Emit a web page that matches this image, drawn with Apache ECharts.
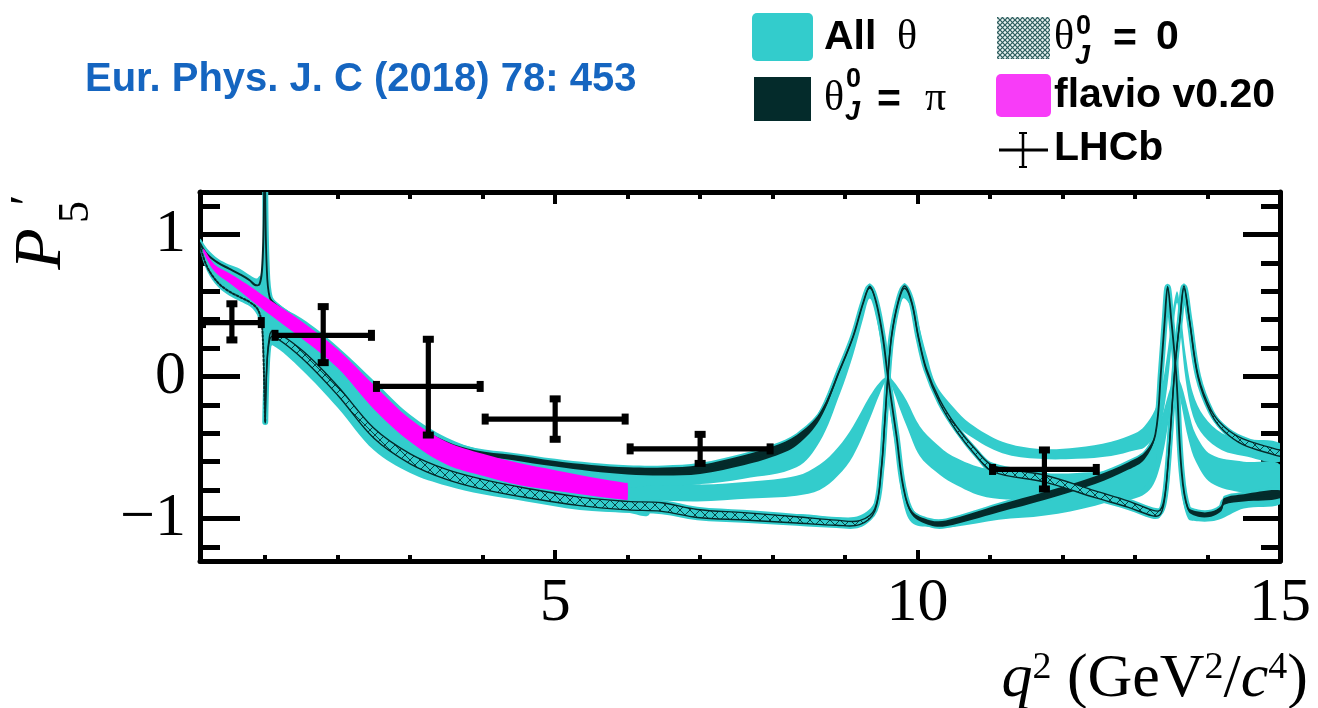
<!DOCTYPE html>
<html>
<head>
<meta charset="utf-8">
<script src="https://cdn.jsdelivr.net/npm/echarts@6.0.0/dist/echarts.min.js"></script>
<style>
  html, body { margin: 0; padding: 0; background: #ffffff; }
  #chart { width: 1318px; height: 708px; }
</style>
</head>
<body>
<div id="chart"></div>
<script>
// ---------------- axis ticks ----------------
const xLabelValues = [5, 10, 15];
const xMajorTicks = [5, 10];
const xMinorTicks = [1, 2, 3, 4, 6, 7, 8, 9, 11, 12, 13, 14];
const yLabelValues = [-1, 0, 1];
const yMajorTicks = [-1, 0, 1];
const yMinorTicks = [-1.2, -0.8, -0.6, -0.4, -0.2, 0.2, 0.4, 0.6, 0.8, 1.2];

// ---------------- LHCb measurements ----------------
const lhcbX     = [0.54, 1.80, 3.25, 5.00, 7.00, 11.75];
const lhcbY     = [0.38, 0.29, -0.07, -0.30, -0.51, -0.655];
const lhcbXLo   = [0.10, 1.10, 2.50, 4.00, 6.00, 11.00];
const lhcbXHi   = [0.98, 2.50, 4.00, 6.00, 8.00, 12.50];
const lhcbErrUp = [0.15, 0.22, 0.35, 0.16, 0.12, 0.155];
const lhcbErrDn = [0.14, 0.21, 0.36, 0.16, 0.12, 0.155];

// ---------------- flavio v0.20 prediction (q2 < 6) ----------------
const flavioX  = [0.15, 0.30, 0.50, 0.75, 1.00, 1.50, 2.00, 2.50, 3.00, 3.50, 4.00, 4.50, 5.00, 5.50, 5.98, 6.00];
const flavioHi = [0.90, 0.79, 0.73, 0.65, 0.56, 0.39, 0.19, -0.06, -0.30, -0.46, -0.545, -0.61, -0.66, -0.71, -0.75, -0.75];
const flavioLo = [0.87, 0.74, 0.66, 0.56, 0.46, 0.27, 0.06, -0.23, -0.46, -0.62, -0.70, -0.765, -0.805, -0.84, -0.87, -0.87];

// ---------------- all-theta envelope below the phi spike ----------------
const lowX  = [0.10, 0.20, 0.35, 0.50, 0.65, 0.80, 0.88, 0.93];
const lowHi = [0.97, 0.90, 0.83, 0.79, 0.76, 0.71, 0.69, 0.71];
const lowLo = [0.89, 0.74, 0.63, 0.57, 0.53, 0.49, 0.44, 0.38];

// phi resonance spike
const spikeX  = [0.93, 0.96, 0.975, 0.985, 0.995, 1.005, 1.02, 1.04, 1.08];
const spikeHi = [0.70, 0.78, 0.95, 1.30, 1.30, 0.95, 0.62, 0.52, 0.46];
const spikeLo = [0.48, 0.36, 0.05, -0.22, -0.33, -0.20, 0.08, 0.22, 0.28];

// all-theta envelope, 1 < q2 < 6.3
const mainX  = [1.04, 1.10, 1.50, 2.00, 2.50, 3.00, 3.50, 4.00, 4.60, 5.34, 6.00, 6.30];
const mainHi = [0.52, 0.51, 0.41, 0.21, -0.03, -0.27, -0.43, -0.52, -0.57, -0.62, -0.645, -0.65];
const mainLo = [0.18, 0.22, 0.05, -0.22, -0.52, -0.68, -0.77, -0.83, -0.88, -0.94, -0.96, -0.97];

// theta_J = pi/2 family
const midX  = [5.80, 6.30, 6.96, 7.70, 8.33, 8.65, 8.90, 9.11, 9.34, 9.48, 9.59, 9.68, 9.75, 9.85, 10.03, 10.25, 10.48, 10.95, 11.68, 12.20, 12.90, 13.20, 13.36, 13.50, 13.57, 13.64, 13.74, 13.84, 14.05, 14.50, 15.00];
const midHi = [-0.70, -0.73, -0.76, -0.74, -0.70, -0.62, -0.50, -0.35, -0.14, -0.04, 0.00, -0.04, -0.09, -0.17, -0.35, -0.47, -0.56, -0.65, -0.68, -0.68, -0.64, -0.52, -0.30, -0.06, 0.00, -0.06, -0.25, -0.41, -0.55, -0.60, -0.62];
const midLo = [-0.86, -0.87, -0.88, -0.86, -0.84, -0.80, -0.70, -0.56, -0.30, -0.12, -0.02, -0.12, -0.22, -0.35, -0.56, -0.67, -0.75, -0.85, -0.87, -0.88, -0.87, -0.80, -0.60, -0.20, -0.03, -0.20, -0.45, -0.60, -0.75, -0.82, -0.85];

// theta_J near 3pi/4 family
const q3X  = [5.80, 6.30, 6.96, 7.60, 8.33, 8.65, 8.93, 9.11, 9.25, 9.34, 9.43, 9.52, 9.59, 9.71, 9.80, 9.92, 10.17, 10.50, 11.12, 11.76, 12.45, 12.91, 13.13, 13.28, 13.36, 13.41, 13.45, 13.50, 13.57, 13.64, 13.73, 13.87, 14.05, 14.20, 14.50, 15.00];
const q3Hi = [-0.66, -0.68, -0.68, -0.62, -0.49, -0.31, 0.02, 0.25, 0.49, 0.60, 0.49, 0.25, -0.02, -0.43, -0.78, -0.97, -1.02, -1.01, -0.93, -0.83, -0.71, -0.61, -0.54, -0.40, 0.03, 0.37, 0.60, 0.37, -0.02, -0.66, -0.94, -0.98, -0.97, -0.90, -0.82, -0.80];
const q3Lo = [-0.78, -0.77, -0.76, -0.72, -0.64, -0.46, -0.12, 0.15, 0.41, 0.55, 0.41, 0.15, -0.14, -0.55, -0.88, -1.03, -1.06, -1.06, -1.01, -0.98, -0.91, -0.83, -0.78, -0.62, -0.15, 0.25, 0.54, 0.25, -0.16, -0.78, -1.00, -1.02, -1.02, -1.00, -0.93, -0.90];

// theta_J near pi/4 family
const q1X  = [8.33, 8.88, 9.20, 9.41, 9.50, 9.55, 9.59, 9.64, 9.73, 9.80, 9.86, 9.93, 10.01, 10.12, 10.26, 10.50, 10.72, 11.17, 11.68, 12.20, 12.67, 13.00, 13.13, 13.27, 13.36, 13.45, 13.52, 13.58, 13.63, 13.70, 13.80, 13.95, 14.20, 14.50, 15.00];
const q1Hi = [-0.97, -0.99, -0.98, -0.88, -0.60, -0.26, 0.04, 0.32, 0.54, 0.61, 0.59, 0.54, 0.38, 0.16, -0.06, -0.22, -0.33, -0.46, -0.51, -0.50, -0.46, -0.40, -0.35, -0.24, -0.10, 0.18, 0.46, 0.60, 0.45, 0.15, -0.12, -0.28, -0.40, -0.44, -0.47];
const q1Lo = [-1.01, -1.04, -1.03, -0.96, -0.72, -0.38, -0.08, 0.22, 0.46, 0.55, 0.53, 0.46, 0.28, 0.06, -0.14, -0.32, -0.42, -0.54, -0.58, -0.58, -0.56, -0.52, -0.50, -0.42, -0.33, -0.05, 0.30, 0.52, 0.30, -0.03, -0.28, -0.42, -0.52, -0.56, -0.60];

// theta_J^0 = pi : below the phi spike, then main curve (centre and half width)
const piLowX = [0.10, 0.20, 0.35, 0.50, 0.65, 0.78, 0.86, 0.92, 0.955, 0.975, 0.985];
const piLowY = [0.94, 0.86, 0.80, 0.76, 0.72, 0.68, 0.645, 0.65, 0.75, 1.00, 1.30];
const piX = [1.00, 1.02, 1.06, 1.15, 1.50, 2.00, 2.50, 3.00, 3.50, 3.90, 4.40, 5.00, 5.50, 6.00, 6.50, 7.00, 7.60, 8.00, 8.33, 8.65, 8.93, 9.11, 9.25, 9.34, 9.43, 9.52, 9.59, 9.71, 9.80, 9.92, 10.17, 10.39, 11.12, 11.76, 12.45, 12.91, 13.13, 13.28, 13.36, 13.41, 13.45, 13.50, 13.57, 13.64, 13.73, 13.87, 14.05, 14.19, 14.23, 14.50, 15.00];
const piY = [1.30, 0.78, 0.56, 0.50, 0.37, 0.17, -0.08, -0.32, -0.47, -0.535, -0.57, -0.615, -0.645, -0.665, -0.67, -0.655, -0.59, -0.53, -0.45, -0.28, 0.05, 0.28, 0.52, 0.63, 0.52, 0.28, 0.00, -0.42, -0.77, -0.96, -1.03, -1.035, -0.93, -0.84, -0.73, -0.63, -0.56, -0.41, 0.05, 0.40, 0.63, 0.40, 0.00, -0.65, -0.93, -0.97, -0.97, -0.93, -0.88, -0.855, -0.83];
const piW = [0.008, 0.008, 0.010, 0.012, 0.012, 0.012, 0.012, 0.012, 0.014, 0.016, 0.018, 0.020, 0.022, 0.025, 0.028, 0.032, 0.035, 0.036, 0.036, 0.025, 0.012, 0.010, 0.010, 0.012, 0.010, 0.008, 0.006, 0.008, 0.010, 0.014, 0.018, 0.020, 0.026, 0.028, 0.028, 0.026, 0.024, 0.012, 0.008, 0.008, 0.010, 0.008, 0.006, 0.008, 0.014, 0.018, 0.018, 0.020, 0.024, 0.026, 0.028];

// theta_J^0 = 0 : below the phi spike, then main curve (centre and half width)
const zeroLowX = [0.10, 0.20, 0.35, 0.50, 0.65, 0.80, 0.90, 0.95, 0.975, 0.99, 1.00];
const zeroLowY = [0.92, 0.77, 0.66, 0.60, 0.56, 0.52, 0.47, 0.38, 0.15, -0.15, -0.32];
const zeroX = [1.00, 1.02, 1.05, 1.10, 1.50, 2.00, 2.50, 3.00, 3.50, 4.00, 4.60, 5.34, 6.00, 6.47, 6.96, 7.60, 8.33, 8.88, 9.20, 9.41, 9.50, 9.55, 9.59, 9.64, 9.73, 9.82, 9.92, 10.01, 10.12, 10.31, 10.54, 10.81, 11.04, 11.76, 12.45, 12.91, 13.23, 13.34, 13.40, 13.45, 13.55, 13.62, 13.675, 13.75, 13.87, 14.05, 14.23, 14.49, 14.92, 15.00];
const zeroY = [-0.32, 0.05, 0.24, 0.30, 0.16, -0.10, -0.40, -0.58, -0.69, -0.76, -0.82, -0.88, -0.91, -0.92, -0.965, -0.985, -1.01, -1.03, -1.03, -0.94, -0.65, -0.30, 0.00, 0.28, 0.52, 0.63, 0.52, 0.28, 0.05, -0.18, -0.37, -0.54, -0.65, -0.72, -0.83, -0.90, -0.96, -0.96, -0.88, -0.65, 0.06, 0.40, 0.63, 0.40, 0.00, -0.25, -0.37, -0.46, -0.53, -0.54];
const zeroW = [0.006, 0.008, 0.012, 0.018, 0.028, 0.032, 0.035, 0.035, 0.035, 0.035, 0.033, 0.030, 0.030, 0.030, 0.028, 0.026, 0.022, 0.018, 0.014, 0.008, 0.006, 0.005, 0.005, 0.005, 0.006, 0.008, 0.006, 0.006, 0.008, 0.012, 0.016, 0.020, 0.022, 0.024, 0.024, 0.022, 0.020, 0.016, 0.010, 0.006, 0.005, 0.005, 0.008, 0.005, 0.008, 0.012, 0.016, 0.020, 0.022, 0.022];

// ---------------- styling ----------------
const CYAN = '#33cccc';
const DARK = '#042b2b';
const MAGENTA = '#ff00ff';
const SERIF = '"Liberation Serif", "DejaVu Serif", serif';
const SANS = '"Liberation Sans", Arial, sans-serif';

function hatchCanvas(size, bg, fg, lw) {
  const c = document.createElement('canvas');
  c.width = size; c.height = size;
  const g = c.getContext('2d');
  g.fillStyle = bg; g.fillRect(0, 0, size, size);
  g.strokeStyle = fg; g.lineWidth = lw;
  g.beginPath();
  g.moveTo(0, 0); g.lineTo(size, size);
  g.moveTo(size, 0); g.lineTo(0, size);
  g.stroke();
  return c;
}
const bandHatch = { image: hatchCanvas(10, CYAN, '#0b4545', 1), repeat: 'repeat' };
const legendHatch = { image: hatchCanvas(5, '#e8f2f2', '#2b5b5b', 1.2), repeat: 'repeat' };

const plus = (a, b) => a.map((v, i) => v + b[i]);
const minus = (a, b) => a.map((v, i) => v - b[i]);
const addConst = (a, c) => a.map(v => v + c);

let zOrder = 2;
// filled band between two curves sampled on the same q2 grid
function bandSeries(name, xs, lo, hi, fill, smooth) {
  return {
    type: 'custom', name: name, coordinateSystem: 'cartesian2d', silent: true, clip: true,
    z: zOrder++, data: [[1, 0]],
    renderItem: function (params, api) {
      const pts = [];
      for (let i = 0; i < xs.length; i++) pts.push(api.coord([xs[i], hi[i]]));
      for (let i = xs.length - 1; i >= 0; i--) pts.push(api.coord([xs[i], lo[i]]));
      return { type: 'polygon', shape: { points: pts, smooth: smooth }, style: { fill: fill, stroke: null } };
    }
  };
}
// single curve
function curveSeries(name, xs, ys, color, width, smooth, dash) {
  return {
    type: 'custom', name: name, coordinateSystem: 'cartesian2d', silent: true, clip: true,
    z: zOrder++, data: [[1, 0]],
    renderItem: function (params, api) {
      const pts = xs.map((x, i) => api.coord([x, ys[i]]));
      return {
        type: 'polyline', shape: { points: pts, smooth: smooth },
        style: { fill: null, stroke: color, lineWidth: width, lineDash: dash || null, lineCap: 'round', lineJoin: 'round' }
      };
    }
  };
}

const SM = 0.35;
const piLo = minus(piY, piW), piHi = plus(piY, piW);
const zeroLo = minus(zeroY, zeroW), zeroHi = plus(zeroY, zeroW);

const series = [
  // all-theta bands
  bandSeries('All θ', lowX, lowLo, lowHi, CYAN, SM),
  bandSeries('All θ', spikeX, spikeLo, spikeHi, CYAN, 0),
  bandSeries('All θ', mainX, mainLo, mainHi, CYAN, SM),
  bandSeries('All θ', midX, midLo, midHi, CYAN, SM),
  bandSeries('All θ', q3X, q3Lo, q3Hi, CYAN, SM),
  bandSeries('All θ', q1X, q1Lo, q1Hi, CYAN, SM),
  bandSeries('All θ', zeroX, addConst(zeroLo, -0.02), addConst(zeroHi, 0.02), CYAN, SM),
  bandSeries('All θ', piX, addConst(piLo, -0.015), addConst(piHi, 0.015), CYAN, SM),
  curveSeries('All θ', piX, piY, CYAN, 6, SM),
  curveSeries('All θ', zeroX, zeroY, CYAN, 6, SM),
  // theta_J^0 = pi
  bandSeries('θJ = π', piX, piLo, piHi, DARK, SM),
  curveSeries('θJ = π', piX, piY, DARK, 1.8, SM),
  curveSeries('θJ = π', piLowX, piLowY, DARK, 2, SM),
  // theta_J^0 = 0
  bandSeries('θJ = 0', zeroX, zeroLo, zeroHi, bandHatch, SM),
  curveSeries('θJ = 0', zeroX, zeroLo, DARK, 1.4, SM),
  curveSeries('θJ = 0', zeroX, zeroHi, DARK, 1.4, SM),
  curveSeries('θJ = 0', zeroLowX, zeroLowY, DARK, 2, SM, [2, 2]),
  // flavio
  bandSeries('flavio v0.20', flavioX, flavioLo, flavioHi, MAGENTA, SM),
  // LHCb
  {
    type: 'custom', name: 'LHCb', coordinateSystem: 'cartesian2d', silent: true, z: 40,
    data: lhcbX.map((x, i) => [x, lhcbY[i], lhcbXLo[i], lhcbXHi[i], lhcbY[i] - lhcbErrDn[i], lhcbY[i] + lhcbErrUp[i]]),
    renderItem: function (params, api) {
      const x = api.value(0), y = api.value(1);
      const l = api.coord([api.value(2), y]), r = api.coord([api.value(3), y]);
      const b = api.coord([x, api.value(4)]), t = api.coord([x, api.value(5)]);
      const st = { stroke: '#000', lineWidth: 5.2, fill: null };
      const cap = { fill: '#000' };
      return {
        type: 'group', children: [
          { type: 'line', shape: { x1: l[0], y1: l[1], x2: r[0], y2: r[1] }, style: st },
          { type: 'line', shape: { x1: t[0], y1: t[1], x2: b[0], y2: b[1] }, style: st },
          { type: 'rect', shape: { x: l[0] - 1, y: l[1] - 5.5, width: 7, height: 11 }, style: cap },
          { type: 'rect', shape: { x: r[0] - 6, y: r[1] - 5.5, width: 7, height: 11 }, style: cap },
          { type: 'rect', shape: { x: t[0] - 5.5, y: t[1] - 1, width: 11, height: 7 }, style: cap },
          { type: 'rect', shape: { x: b[0] - 5.5, y: b[1] - 6, width: 11, height: 7 }, style: cap }
        ]
      };
    }
  }
];

// ---------------- axes (frame with inward ticks on all sides) ----------------
const X_MIN = 0.1, X_MAX = 15, Y_MIN = -1.3, Y_MAX = 1.3;
function xAxisDef(position, ticks, len, width, withLabels, withLine) {
  return {
    type: 'value', min: X_MIN, max: X_MAX, position: position,
    axisLine: { show: withLine, onZero: false, lineStyle: { color: '#000', width: 5 } },
    axisTick: { show: true, inside: true, length: len, customValues: ticks, lineStyle: { color: '#000', width: width } },
    axisLabel: withLabels ? {
      show: true, customValues: xLabelValues, margin: 12, color: '#000',
      fontFamily: SERIF, fontSize: 62
    } : { show: false },
    splitLine: { show: false }, minorTick: { show: false }
  };
}
function yAxisDef(position, ticks, len, withLabels, withLine) {
  return {
    type: 'value', min: Y_MIN, max: Y_MAX, position: position,
    axisLine: { show: withLine, onZero: false, lineStyle: { color: '#000', width: 5 } },
    axisTick: { show: true, inside: true, length: len, customValues: ticks, lineStyle: { color: '#000', width: 5 } },
    axisLabel: withLabels ? {
      show: true, customValues: yLabelValues, margin: 14, color: '#000',
      fontFamily: SERIF, fontSize: 62,
      formatter: v => (v < 0 ? '\u2212' + Math.abs(v) : String(v))
    } : { show: false },
    splitLine: { show: false }, minorTick: { show: false }
  };
}

// ---------------- legend & annotations ----------------
function txt(x, y, text, font, opts) {
  return Object.assign({
    type: 'text', x: x, y: y, silent: true, z: 50,
    style: Object.assign({ text: text, fill: '#000', textVerticalAlign: 'middle', textAlign: 'left' }, font)
  }, opts || {});
}
const boldSans = size => ({ fontFamily: SANS, fontWeight: 'bold', fontSize: size });
const serifN = size => ({ fontFamily: SERIF, fontSize: size });

const graphics = [
  txt(85, 80, 'Eur. Phys. J. C (2018) 78: 453', Object.assign(boldSans(40), { fill: '#1565c0' })),

  // row 1
  { type: 'rect', shape: { x: 752, y: 13, width: 61, height: 48, r: 5 }, style: { fill: CYAN }, z: 50, silent: true },
  txt(824, 38, 'All', boldSans(41)),
  txt(897, 38, 'θ', serifN(42)),
  { type: 'rect', shape: { x: 997, y: 17, width: 53, height: 42 }, style: { fill: legendHatch }, z: 50, silent: true },
  txt(1054, 38, 'θ', serifN(42)),
  txt(1076, 27, '0', boldSans(27)),
  txt(1075, 57, 'J', Object.assign(boldSans(27), { fontStyle: 'italic' })),
  txt(1113, 40, '=', boldSans(41)),
  txt(1156, 38, '0', boldSans(41)),

  // row 2
  { type: 'rect', shape: { x: 754, y: 77, width: 57, height: 44 }, style: { fill: DARK }, z: 50, silent: true },
  txt(824, 99, 'θ', serifN(42)),
  txt(846, 80, '0', boldSans(27)),
  txt(845, 113, 'J', Object.assign(boldSans(27), { fontStyle: 'italic' })),
  txt(877, 101, '=', boldSans(41)),
  txt(925, 99, 'π', serifN(42)),
  { type: 'rect', shape: { x: 996, y: 74, width: 55, height: 43, r: 5 }, style: { fill: '#f83cf8' }, z: 50, silent: true },
  txt(1054, 96, 'flavio v0.20', boldSans(41)),

  // row 3
  { type: 'line', shape: { x1: 999, y1: 150, x2: 1048, y2: 150 }, style: { stroke: '#000', lineWidth: 3 }, z: 50, silent: true },
  { type: 'line', shape: { x1: 1023, y1: 132, x2: 1023, y2: 168 }, style: { stroke: '#000', lineWidth: 2.5 }, z: 50, silent: true },
  { type: 'line', shape: { x1: 1019, y1: 133, x2: 1027, y2: 133 }, style: { stroke: '#000', lineWidth: 2 }, z: 50, silent: true },
  { type: 'line', shape: { x1: 1019, y1: 167, x2: 1027, y2: 167 }, style: { stroke: '#000', lineWidth: 2 }, z: 50, silent: true },
  txt(1054, 149, 'LHCb', boldSans(41)),

  // y axis title P'_5
  txt(42, 249, 'P', { fontFamily: SERIF, fontStyle: 'italic', fontSize: 68, textAlign: 'center' }, { rotation: Math.PI / 2 }),
  txt(76, 212, '5', Object.assign(serifN(44), { textAlign: 'center' }), { rotation: Math.PI / 2 }),
  txt(30, 200, '\u2032', Object.assign(serifN(48), { textAlign: 'center' }), { rotation: Math.PI / 2 }),

  // x axis title
  {
    type: 'text', x: 1308, y: 680, silent: true, z: 50,
    style: {
      text: '{i|q}{s|2}{n| (GeV}{s|2}{n|/}{i|c}{s|4}{n|)}',
      textAlign: 'right', textVerticalAlign: 'middle', fill: '#000',
      rich: {
        i: { fontFamily: SERIF, fontStyle: 'italic', fontSize: 62, lineHeight: 62 },
        n: { fontFamily: SERIF, fontSize: 62, lineHeight: 62 },
        s: { fontFamily: SERIF, fontSize: 38, lineHeight: 62, verticalAlign: 'top', padding: [0, 0, 0, 0] }
      }
    }
  }
];

const chart = echarts.init(document.getElementById('chart'), null, { renderer: 'canvas' });
chart.setOption({
  animation: false,
  backgroundColor: '#ffffff',
  grid: { left: 200, right: 38, top: 192, bottom: 147, containLabel: false },
  xAxis: [
    xAxisDef('bottom', xMajorTicks, 11, 4, true, true),
    xAxisDef('bottom', xMinorTicks, 6, 4, false, false),
    xAxisDef('top', xMajorTicks, 12, 4, false, true),
    xAxisDef('top', xMinorTicks, 7, 4, false, false)
  ],
  yAxis: [
    yAxisDef('left', yMajorTicks, 40, true, true),
    yAxisDef('left', yMinorTicks, 20, false, false),
    yAxisDef('right', yMajorTicks, 37, false, true),
    yAxisDef('right', yMinorTicks, 19, false, false)
  ],
  series: series,
  graphic: graphics
});
</script>
</body>
</html>
